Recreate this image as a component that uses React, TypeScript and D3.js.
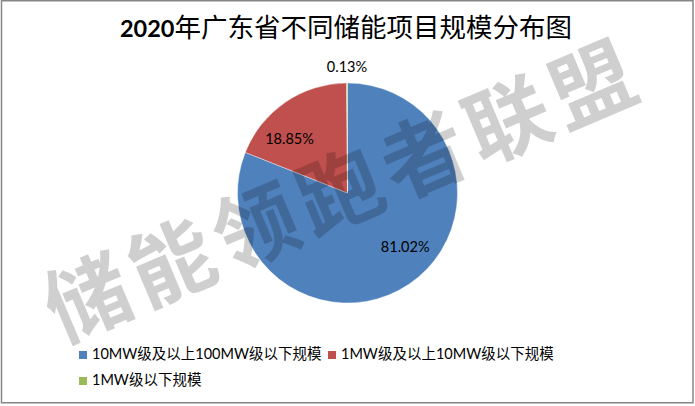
import React from 'react';
import * as d3 from 'd3';

const categories = ['10MW级及以上100MW级以下规模', '1MW级及以上10MW级以下规模', '1MW级以下规模'];
const values = [81.02, 18.85, 0.13];
const labels = ['81.02%', '18.85%', '0.13%'];
const colors = ['#4F81BD', '#C0504D', '#9BBB59'];
const titleYear = '2020';
const titleText = '年广东省不同储能项目规模分布图';
const watermark = '储能领跑者联盟';

const W = 695;
const H = 406;
const LATIN = "Lato, 'Noto Sans CJK SC', sans-serif";
const CJK = "'Noto Sans CJK SC', sans-serif";

export default function App() {
  const cx = 347.5;
  const cy = 193;
  const r = 110;
  const pie = d3.pie<number>().sort(null).value((d) => d);
  const arcs = pie(values);
  const arc = d3.arc<d3.PieArcDatum<number>>().innerRadius(0).outerRadius(r);
  const inner = d3.arc<d3.PieArcDatum<number>>().innerRadius(79).outerRadius(79);
  const outer = d3.arc<d3.PieArcDatum<number>>().innerRadius(r + 16).outerRadius(r + 16);

  const legendPos = [
    { x: 79, y: 351 },
    { x: 328, y: 351 },
    { x: 79, y: 377 },
  ];

  const wmChars = Array.from(watermark);
  const wmStep = 91.3;

  return (
    <svg
      width={W}
      height={H}
      style={{ position: 'fixed', left: 0, top: 0, display: 'block', background: '#fff' }}
    >
      <rect x={0} y={0} width={W} height={H} fill="#fff" />
      <text x={346} y={37} textAnchor="middle" fill="#000">
        <tspan fontFamily={LATIN} fontWeight={700} fontSize={23.5}>{titleYear}</tspan>
        <tspan fontFamily={CJK} fontWeight={400} fontSize={26.5}>{titleText}</tspan>
      </text>

      <g transform={`translate(${cx},${cy})`}>
        {arcs.map((a, i) => (
          <path key={i} d={arc(a) || ''} fill={colors[i]} stroke="#fff" strokeWidth={0.4} />
        ))}
        {arcs.map((a, i) => {
          const small = a.endAngle - a.startAngle < 0.05;
          const c = small ? outer.centroid(a) : inner.centroid(a);
          const x = small ? c[0] : c[0] * 1.3;
          const y = small ? c[1] : c[1] * 0.83;
          return (
            <text
              key={'l' + i}
              x={x}
              y={y}
              dy="0.36em"
              textAnchor="middle"
              fontFamily={LATIN}
              fontSize={14.5}
              fill="#000"
            >
              {labels[i]}
            </text>
          );
        })}
      </g>

      {categories.map((c, i) => (
        <g key={'lg' + i} transform={`translate(${legendPos[i].x},${legendPos[i].y})`}>
          <rect x={0} y={0} width={8} height={8} fill={colors[i]} />
          <text x={13} y={7.5} fontFamily={LATIN} fontSize={14.5} fill="#000">
            {c}
          </text>
        </g>
      ))}

      <g transform={`translate(340,192) rotate(-23)`} style={{ pointerEvents: 'none' }}>
        {wmChars.map((ch, i) => (
          <text
            key={'w' + i}
            x={(i - (wmChars.length - 1) / 2) * wmStep}
            y={0}
            dy="0.36em"
            textAnchor="middle"
            fontFamily={CJK}
            fontWeight={700}
            fontSize={84}
            fill="#000"
            fillOpacity={0.19}
          >
            {ch}
          </text>
        ))}
      </g>

      <rect x={1.5} y={0.75} width={691.5} height={402} fill="none" stroke="#868686" strokeWidth={1.5} />
    </svg>
  );
}
